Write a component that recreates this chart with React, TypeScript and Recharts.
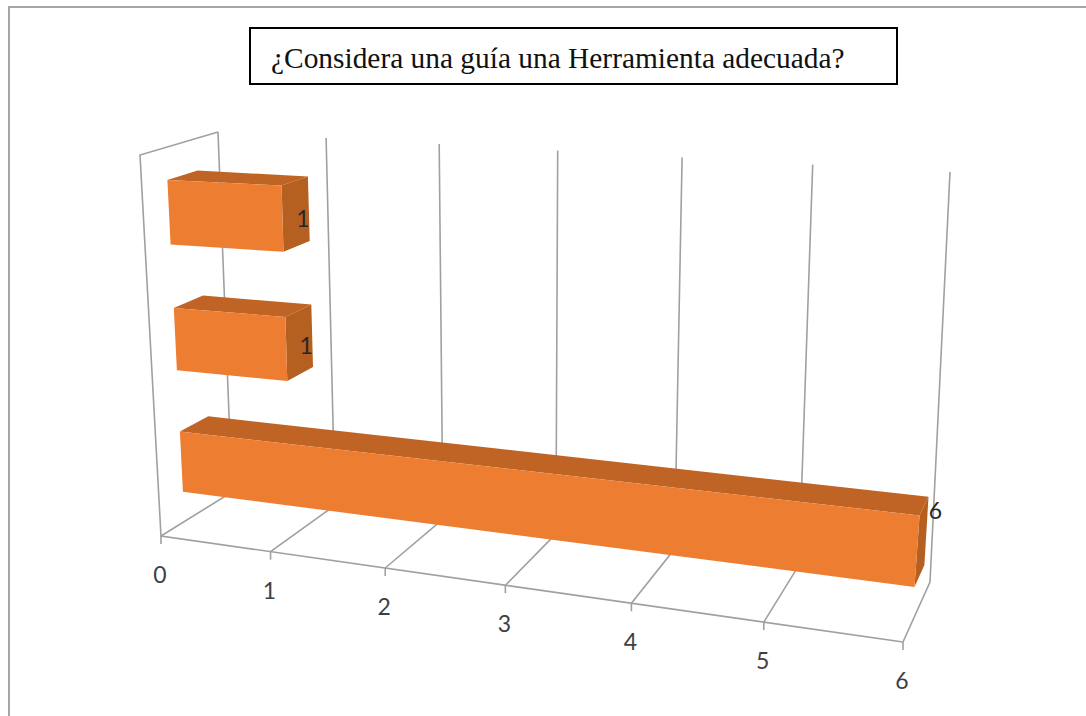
import { BarChart, Bar, XAxis, YAxis, CartesianGrid, LabelList } from "recharts";

const categories = ["Opción A", "Opción B", "Opción C"];
const answers = [1, 1, 6];
const valueTicks = [0, 1, 2, 3, 4, 5, 6];
const chartTitle = "¿Considera una guía una Herramienta adecuada?";

const rows = categories.map((name, i) => ({ name, value: answers[i] }));

const WIDTH = 1086;
const HEIGHT = 716;
const PLOT_LEFT = 100;
const PLOT_RIGHT = 100;
const PLOT_TOP = 100;
const PLOT_BOTTOM = 100;
const AXIS_HEIGHT = 30;
const PLOT_W = WIDTH - PLOT_LEFT - PLOT_RIGHT;
const PLOT_H = HEIGHT - PLOT_TOP - PLOT_BOTTOM - AXIS_HEIGHT;

type Pt = [number, number];

// screen position of the eight corners of the 3D plot box
const BOX = {
  frontBottomLeft: [161, 536] as Pt,
  frontBottomRight: [903, 642] as Pt,
  backBottomLeft: [232, 492] as Pt,
  backBottomRight: [930, 582] as Pt,
  frontTopLeft: [140, 155] as Pt,
  frontTopRight: [941, 181] as Pt,
  backTopLeft: [218, 132] as Pt,
  backTopRight: [950, 172] as Pt,
};

const FORESHORTEN_X = 0.866;
const FORESHORTEN_Y = 0.95;
const BAR_FRONT = 0.33;
const BAR_BACK = 0.72;

const FRONT_COLOR = "#ed7d31";
const TOP_COLOR = "#bf6424";
const SIDE_COLOR = "#b55f20";
const GRID_COLOR = "#a0a0a0";
const LABEL_FONT = "Lato, sans-serif";

const mix = (a: Pt, b: Pt, t: number): Pt => [a[0] + (b[0] - a[0]) * t, a[1] + (b[1] - a[1]) * t];
const foreshorten = (t: number, k: number) => (k * t) / (1 + (k - 1) * t);

// takes chart pixels (from the recharts scales) plus a depth 0..1 and returns page pixels
function project(x: number, y: number, depth: number): Pt {
  const s = foreshorten((x - PLOT_LEFT) / PLOT_W, FORESHORTEN_X);
  const h = foreshorten(1 - (y - PLOT_TOP) / PLOT_H, FORESHORTEN_Y);
  const bottom = mix(
    mix(BOX.frontBottomLeft, BOX.frontBottomRight, s),
    mix(BOX.backBottomLeft, BOX.backBottomRight, s),
    depth,
  );
  const top = mix(
    mix(BOX.frontTopLeft, BOX.frontTopRight, s),
    mix(BOX.backTopLeft, BOX.backTopRight, s),
    depth,
  );
  return mix(bottom, top, h);
}

const toPoints = (pts: Pt[]) => pts.map((p) => `${p[0].toFixed(1)},${p[1].toFixed(1)}`).join(" ");

function Bar3D({ x, y, width, height }: any) {
  const right = x + width;
  const bottom = y + height;
  const ftl = project(x, y, BAR_FRONT);
  const ftr = project(right, y, BAR_FRONT);
  const fbl = project(x, bottom, BAR_FRONT);
  const fbr = project(right, bottom, BAR_FRONT);
  const btl = project(x, y, BAR_BACK);
  const btr = project(right, y, BAR_BACK);
  const bbr = project(right, bottom, BAR_BACK);
  return (
    <g>
      <polygon points={toPoints([ftl, btl, btr, ftr])} fill={TOP_COLOR} />
      <polygon points={toPoints([ftr, btr, bbr, fbr])} fill={SIDE_COLOR} />
      <polygon points={toPoints([ftl, ftr, fbr, fbl])} fill={FRONT_COLOR} />
    </g>
  );
}

// long bars carry their label further out and higher up the end cap
function ValueLabel({ x, y, width, height, value }: any) {
  const [px, py] = project(x + width, y + height / 2, BAR_BACK);
  const dx = -6 + 3 * (value - 1);
  const dy = 18 - 6 * (value - 1);
  return (
    <text x={px + dx} y={py + dy} fontFamily={LABEL_FONT} fontSize={23} fill="#262626" textAnchor="middle">
      {value}
    </text>
  );
}

// one grid position: a floor line plus a line up the back wall
function GridLine({ x1 }: any) {
  const front = project(x1, PLOT_TOP + PLOT_H, 0);
  const back = project(x1, PLOT_TOP + PLOT_H, 1);
  const top = project(x1, PLOT_TOP, 1);
  return <polyline points={toPoints([front, back, top])} fill="none" stroke={GRID_COLOR} strokeWidth={1.6} />;
}

function ValueTick({ x, payload }: any) {
  const base = project(x, PLOT_TOP + PLOT_H, 0);
  return (
    <g>
      <line x1={base[0]} y1={base[1]} x2={base[0]} y2={base[1] + 8} stroke={GRID_COLOR} strokeWidth={1.6} />
      <text x={base[0] - 1} y={base[1] + 47} fontFamily={LABEL_FONT} fontSize={23} fill="#404040" textAnchor="middle">
        {payload.value}
      </text>
    </g>
  );
}

function WallOutline() {
  return (
    <svg width={WIDTH} height={HEIGHT} style={{ position: "absolute", left: 0, top: 0 }}>
      <polyline
        points={toPoints([BOX.backTopLeft, BOX.frontTopLeft, BOX.frontBottomLeft, BOX.frontBottomRight])}
        fill="none"
        stroke={GRID_COLOR}
        strokeWidth={1.6}
      />
    </svg>
  );
}

export default function App() {
  return (
    <div style={{ position: "absolute", left: 0, top: 0, width: WIDTH, height: HEIGHT, background: "#fff", overflow: "hidden" }}>
      <div style={{ position: "absolute", left: 8, top: 6, right: -4, bottom: -4, borderLeft: "2px solid #a6a6a6", borderTop: "2px solid #a6a6a6" }} />
      <WallOutline />
      <div style={{ position: "absolute", left: 0, top: 0 }}>
        <BarChart
          width={WIDTH}
          height={HEIGHT}
          data={rows}
          layout="vertical"
          barCategoryGap="25%"
          margin={{ top: PLOT_TOP, right: PLOT_RIGHT, bottom: PLOT_BOTTOM, left: PLOT_LEFT }}
        >
          <CartesianGrid horizontal={false} vertical={(props: any) => <GridLine key={props.key ?? props.x1} {...props} />} />
          <XAxis
            type="number"
            domain={[0, 6]}
            ticks={valueTicks}
            height={AXIS_HEIGHT}
            axisLine={false}
            tickLine={false}
            interval={0}
            tick={(props: any) => <ValueTick {...props} />}
          />
          <YAxis type="category" dataKey="name" hide />
          <Bar dataKey="value" isAnimationActive={false} shape={(props: any) => <Bar3D {...props} />}>
            <LabelList dataKey="value" content={(props: any) => <ValueLabel {...props} />} />
          </Bar>
        </BarChart>
      </div>
      <div
        style={{
          position: "absolute",
          left: 249,
          top: 27,
          width: 645,
          height: 54,
          border: "2px solid #000",
          background: "#fff",
          fontFamily: "'Liberation Serif', serif",
          fontSize: 29.4,
          lineHeight: "59px",
          color: "#111",
          whiteSpace: "nowrap",
        }}
      >
        <span style={{ marginLeft: 20 }}>{chartTitle}</span>
      </div>
    </div>
  );
}
